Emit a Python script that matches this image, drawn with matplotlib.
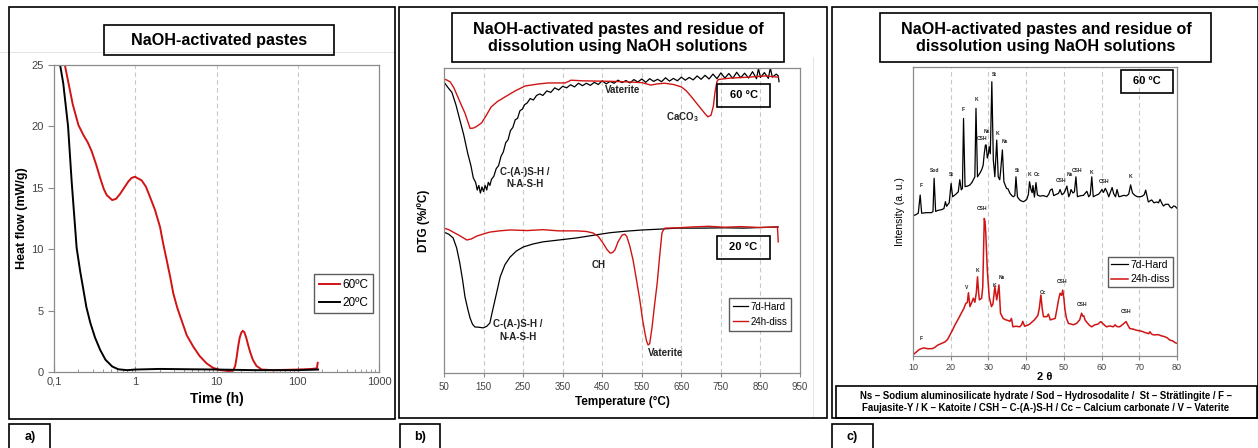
import numpy as np
import matplotlib.pyplot as plt
from matplotlib.patches import Rectangle
from matplotlib.lines import Line2D
from matplotlib.ticker import FixedLocator, FixedFormatter, LogLocator, NullFormatter

plt.rcParams['font.family'] = ['Liberation Sans', 'DejaVu Sans']
plt.rcParams['mathtext.default'] = 'regular'

# ---------------- panel a : calorimetry (h, mW/g)
time_60 = [0.136, 0.15, 0.17, 0.2, 0.23, 0.26, 0.29, 0.33, 0.37, 0.41, 0.446, 0.52, 0.58,
           0.65, 0.73, 0.82, 0.9, 0.99, 1.2, 1.35, 1.51, 1.75, 2.02, 2.2, 2.44, 2.7, 2.94,
           3.3, 3.72, 4.3, 5.18, 6.2, 7.56, 9.0, 11, 14, 16, 17, 17.8, 18.5, 19.3, 20.2,
           21, 22, 23.2, 24.5, 26, 28, 31, 36, 50, 100, 150, 172, 176]
heat_60 = [25, 23.6, 21.8, 20.1, 19.3, 18.7, 18.0, 16.9, 15.8, 14.9, 14.4, 14.0, 14.1,
           14.5, 15.0, 15.5, 15.8, 15.9, 15.6, 15.1, 14.3, 13.2, 11.8, 10.5, 9.1, 7.7, 6.4,
           5.2, 4.2, 3.0, 2.06, 1.3, 0.7, 0.35, 0.16, 0.08, 0.1, 0.5, 1.3, 2.1, 2.8, 3.2,
           3.35, 3.25, 2.8, 2.2, 1.6, 1.0, 0.5, 0.2, 0.15, 0.2, 0.25, 0.3, 0.75]
time_20 = [0.119, 0.13, 0.149, 0.165, 0.19, 0.21, 0.23, 0.25, 0.28, 0.32, 0.37, 0.43,
           0.52, 0.62, 0.79, 1.0, 2, 5, 10, 30, 100, 178]
heat_20 = [25, 23.5, 20, 15.5, 10.1, 8.2, 6.7, 5.3, 4.0, 2.8, 1.8, 1.0,
           0.45, 0.22, 0.15, 0.2, 0.25, 0.22, 0.2, 0.15, 0.15, 0.2]
time_ticks = [0.1, 1, 10, 100, 1000]
time_labels = ['0,1', '1', '10', '100', '1000']

# ---------------- panel b : DTG (arbitrary offset units)
T_hard60 = [50, 60, 70, 80, 90, 100, 110, 118, 124, 130, 134, 138, 142, 146, 150, 154,
            158, 162, 166, 170, 176, 182, 188, 194, 200, 206, 212, 218, 224, 230, 236,
            242, 248, 254, 260, 268, 276, 284, 292, 300, 310, 320, 330, 340, 350, 360,
            370, 380, 390, 400, 410, 420, 430, 440, 450, 460, 470, 480, 490, 500, 510,
            520, 530, 540, 550, 560, 570, 580, 590, 600, 610, 620, 630, 640, 650, 660,
            670, 680, 690, 700, 710, 720, 730, 740, 750, 760, 770, 780, 790, 800, 810,
            820, 830, 840, 845, 850, 860, 870, 875, 880, 890, 895, 897]
D_hard60 = [95.4, 93.6, 92.0, 88.0, 83.0, 78.0, 72.0, 68.0, 64.0, 62.5, 60.0, 61.5,
            59.0, 61.0, 59.5, 61.5, 60.0, 62.5, 61.5, 63.5, 64.5, 67.0, 68.0, 71.0,
            72.5, 75.5, 76.5, 79.5, 80.5, 83.0, 83.5, 86.0, 86.5, 88.0, 88.5, 90.0,
            89.5, 91.0, 91.5, 91.0, 92.5, 92.0, 93.5, 92.8, 94.0, 93.5, 94.5, 93.8,
            95.0, 94.2, 95.0, 94.3, 95.3, 94.6, 95.8, 94.8, 95.6, 95.0, 96.0, 95.2,
            95.9, 95.1, 96.2, 95.4, 96.4, 95.3, 96.5, 95.6, 96.3, 95.5, 96.8, 95.7,
            96.6, 95.8, 97.0, 96.0, 96.9, 96.1, 97.4, 96.3, 97.6, 96.4, 98.0, 96.5,
            98.4, 96.7, 98.2, 96.6, 98.6, 96.8, 98.3, 96.7, 98.8, 96.5, 99.8, 96.9,
            98.5, 96.6, 100.0, 97.0, 98.0, 97.4, 95.5]
T_diss60 = [50, 58, 66, 75, 85, 95, 103, 110, 116, 124, 132, 145, 157, 169, 185, 204,
            230, 255, 285, 313, 356, 365, 371, 400, 440, 480, 522, 550, 573, 590, 608,
            630, 650, 662, 674, 687, 700, 710, 717, 725, 731, 735, 740, 743, 760, 776,
            820, 862, 895]
D_diss60 = [96.4, 96.0, 95.4, 93.5, 90.5, 87.5, 85.2, 82.5, 80.2, 80.3, 80.8, 82.0,
            84.5, 87.2, 89.0, 90.5, 92.5, 94.1, 94.7, 95.1, 95.1, 95.6, 96.0, 95.8,
            95.7, 95.6, 95.4, 95.2, 94.4, 94.8, 95.0, 94.6, 93.8, 92.6, 90.8, 88.7,
            86.6, 85.0, 84.0, 84.5, 87.5, 92.0, 95.5, 96.2, 96.5, 96.7, 97.0, 97.4,
            97.0]
T_hard20 = [50, 62, 73, 82, 90, 97, 103, 110, 116, 122, 128, 138, 149, 158, 166, 172,
            179, 186, 192, 204, 217, 233, 250, 275, 300, 340, 386, 430, 470, 510, 553,
            600, 639, 700, 760, 806, 850, 895]
D_hard20 = [46.2, 45.5, 44.3, 41.0, 36.0, 30.5, 25.0, 21.0, 18.0, 16.0, 15.1, 15.0,
            14.8, 15.3, 16.4, 20.0, 24.0, 28.0, 31.5, 35.5, 38.0, 40.0, 41.3, 42.3,
            43.0, 43.6, 44.3, 45.2, 46.0, 46.5, 46.9, 47.2, 47.5, 47.5, 47.6, 47.5,
            47.7, 47.9]
T_diss20 = [50, 62, 73, 90, 108, 120, 133, 150, 166, 190, 217, 260, 300, 340, 386,
            410, 427, 440, 452, 462, 470, 476, 482, 490, 500, 507, 512, 520, 528, 536,
            545, 552, 558, 562, 566, 570, 576, 582, 589, 595, 601, 605, 609, 640, 680,
            720, 760, 800, 850, 893, 895]
D_diss20 = [47.5, 47.0, 46.2, 45.0, 43.6, 44.0, 44.9, 45.6, 46.2, 46.6, 46.9, 46.7,
            47.0, 46.6, 46.6, 46.4, 45.9, 44.8, 42.6, 40.5, 39.3, 39.5, 40.3, 43.0,
            45.2, 45.5, 44.8, 41.5, 37.0, 31.0, 24.0, 17.5, 13.1, 10.5, 9.2, 9.6,
            15.0, 22.0, 29.5, 38.0, 45.9, 47.0, 47.5, 47.6, 47.9, 48.1, 47.8, 48.0,
            47.7, 47.9, 43.0]

# ---------------- panel c : XRD (2 theta, a.u.)
tt_hard = [10.0, 10.6, 11.4, 11.9, 12.3, 13.5, 14.9, 15.3, 15.6, 16.0, 16.6, 17.5, 18.2,
           18.6, 18.9, 19.6, 20.1, 20.5, 21.2, 22.0, 22.4, 22.8, 23.1, 23.4, 23.8, 24.5,
           25.1, 25.6, 26.0, 26.4, 26.7, 27.1, 27.7, 28.2, 28.6, 28.9, 29.2, 29.4, 29.7,
           30.0, 30.2, 30.5, 30.9, 31.3, 31.7, 32.2, 32.6, 33.0, 33.2, 33.7, 34.1, 34.5,
           34.8, 35.2, 35.7, 36.2, 36.6, 37.0, 37.3, 37.7, 38.3, 38.8, 39.3, 39.8, 40.2,
           40.6, 40.9, 41.3, 41.6, 41.8, 42.2, 42.6, 43.0, 43.7, 44.5, 45.5, 46.0, 46.4,
           46.9, 47.3, 47.8, 48.2, 48.6, 49.0, 49.5, 50.0, 50.4, 50.8, 51.3, 51.6, 51.9,
           52.4, 52.8, 53.2, 53.6, 54.2, 55.2, 56.1, 56.6, 57.0, 57.4, 57.8, 58.5, 59.2,
           59.6, 60.1, 60.5, 61.0, 61.5, 61.9, 62.3, 62.8, 63.2, 63.7, 64.1, 64.6, 65.2,
           65.9, 66.6, 67.2, 67.7, 68.2, 68.8, 69.5, 70.2, 70.8, 71.3, 71.7, 72.1, 72.4,
           73.0, 73.3, 73.9, 74.6, 75.1, 75.5, 76.0, 76.4, 77.0, 77.7, 78.2, 78.6, 79.1,
           79.5, 80.0]
I_hard = [48.5, 48.8, 49.4, 55.7, 49.4, 49.6, 49.6, 50.0, 61.5, 50.0, 50.4, 50.6, 51.0,
          53.4, 51.8, 53.0, 59.7, 55.1, 55.8, 56.8, 61.0, 57.5, 58.0, 82.2, 58.6, 58.8,
          59.2, 60.0, 61.0, 62.0, 85.7, 62.0, 63.2, 64.4, 66.0, 70.1, 73.0, 73.0, 68.5,
          70.0, 72.4, 70.0, 94.9, 67.8, 62.0, 74.7, 62.0, 61.0, 63.5, 71.3, 60.3, 59.0,
          58.0, 57.8, 56.3, 55.5, 55.1, 55.5, 62.0, 55.0, 54.0, 53.6, 53.4, 53.8, 54.3,
          56.0, 60.3, 57.5, 56.5, 59.0, 55.0, 60.0, 55.7, 55.3, 55.5, 55.1, 56.0, 57.4,
          57.8, 55.5, 55.8, 56.0, 56.3, 57.6, 55.8, 56.3, 57.4, 58.8, 55.1, 56.0, 57.6,
          56.4, 56.8, 62.0, 55.1, 55.4, 55.6, 57.0, 55.1, 55.8, 62.0, 55.1, 55.6, 56.0,
          56.6, 57.6, 56.6, 58.0, 56.6, 55.1, 56.5, 58.3, 56.2, 55.1, 57.6, 55.1, 55.3,
          55.6, 55.4, 56.0, 59.2, 56.4, 55.6, 55.1, 55.1, 55.3, 55.8, 57.4, 55.0, 53.3,
          53.8, 54.0, 53.0, 53.3, 53.0, 54.2, 52.8, 51.9, 52.5, 52.5, 51.5, 51.2, 51.9,
          51.8, 51.1]
tt_diss = [10.0, 10.5, 11.0, 11.6, 12.3, 13.0, 13.5, 14.3, 15.3, 16.0, 16.6, 17.5, 18.5,
           19.2, 19.8, 20.5, 21.1, 22.0, 22.8, 23.5, 24.0, 24.4, 24.7, 25.1, 25.6, 26.0,
           26.4, 26.8, 27.1, 27.4, 27.6, 28.2, 28.5, 28.9, 29.1, 29.3, 29.7, 30.2, 30.8,
           31.2, 31.7, 32.2, 32.8, 33.2, 33.9, 34.6, 35.2, 35.7, 36.1, 36.5, 37.3, 38.3,
           38.8, 39.1, 39.6, 40.3, 40.9, 41.6, 42.2, 43.1, 43.5, 43.9, 44.3, 44.6, 45.5,
           45.9, 46.4, 47.2, 47.7, 48.2, 48.6, 49.0, 49.4, 49.7, 50.0, 50.3, 50.7, 51.2,
           52.0, 52.5, 53.4, 54.2, 54.7, 55.0, 55.3, 55.6, 56.0, 56.8, 57.4, 58.2, 59.0,
           59.8, 60.5, 61.3, 62.2, 63.1, 63.6, 64.0, 64.8, 65.7, 66.5, 67.0, 67.5, 68.4,
           69.3, 70.2, 71.0, 71.5, 71.9, 72.5, 72.8, 73.2, 73.5, 74.2, 75.0, 75.8, 76.7,
           77.4, 78.1, 78.9, 79.5, 80.0]
I_diss = [0.3, 1.0, 1.5, 2.2, 2.6, 2.8, 2.6, 2.5, 2.6, 3.2, 3.8, 4.3, 4.9,
          5.8, 7.3, 9.0, 10.7, 12.8, 14.8, 16.5, 18.2, 18.5, 21.9, 17.1, 18.6, 20.0,
          18.6, 22.0, 27.4, 22.0, 19.4, 20.0, 24.0, 47.6, 46.5, 42.5, 29.8, 20.5, 17.1,
          18.0, 24.0, 19.4, 24.6, 14.8, 13.0, 12.5, 12.3, 12.0, 13.0, 10.1, 10.3, 10.1,
          10.8, 12.0, 10.3, 10.6, 11.0, 11.8, 12.5, 14.0, 16.5, 21.1, 16.0, 13.6, 13.6,
          14.5, 12.5, 12.8, 13.0, 16.5, 19.5, 21.7, 21.0, 22.8, 20.0, 15.9, 13.0, 11.3,
          11.0, 10.8, 11.3, 12.5, 14.8, 13.8, 13.9, 12.5, 11.8, 10.6, 10.1, 10.8, 11.0,
          11.9, 11.0, 10.1, 10.4, 10.1, 10.8, 10.2, 10.1, 11.0, 11.9, 10.6, 9.5, 9.3,
          8.9, 8.7, 8.4, 8.1, 8.0, 7.7, 8.4, 7.7, 7.4, 7.3, 7.4, 7.0, 6.7,
          6.3, 5.5, 5.2, 4.6, 4.4]
# peak labels: (text, 2theta, height)
labels_hard = [('F', 12.1, 58.2), ('Sod', 15.7, 63.2), ('St', 20.1, 61.8), ('F', 23.2, 84.5),
               ('K', 26.7, 88.0), ('CSH', 28.4, 74.4), ('Ns', 29.6, 76.8), ('St', 31.7, 96.7),
               ('K', 32.4, 76.1), ('Ns', 34.4, 73.4), ('St', 37.7, 63.2), ('K', 41.0, 61.8),
               ('Cc', 43.0, 61.8), ('CSH', 49.2, 60.0), ('Ns', 51.6, 61.8), ('CSH', 53.5, 63.2),
               ('K', 57.4, 62.6), ('CSH', 60.6, 59.5), ('K', 67.7, 61.2)]
labels_diss = [('F', 12.3, 5.3), ('V', 24.2, 22.8), ('K', 27.1, 28.8), ('CSH', 28.3, 50.3),
               ('K', 31.6, 23.6), ('Ns', 33.5, 26.3), ('Cc', 44.4, 21.0), ('CSH', 49.4, 24.8),
               ('CSH', 54.9, 17.1), ('CSH', 66.5, 14.4)]

RED = '#d01414'
GRID = '#c8c8c8'
SPINE = '#8a8a8a'
TICK = '#444444'

W, H = 1258, 448
fig = plt.figure(figsize=(W / 100, H / 100), dpi=100)


def fbox(x0, y0, x1, y1, lw=1.2, ec='black'):
    fig.add_artist(Rectangle((x0 / W, 1 - y1 / H), (x1 - x0) / W, (y1 - y0) / H,
                             transform=fig.transFigure, fill=False, lw=lw, ec=ec, zorder=5))


def ftext(x, y, s, **kw):
    fig.text(x / W, 1 - y / H, s, ha='center', va='center', **kw)


def add_ax(x0, y0, x1, y1):
    ax = fig.add_axes([x0 / W, 1 - y1 / H, (x1 - x0) / W, (y1 - y0) / H])
    for sp in ax.spines.values():
        sp.set_edgecolor(SPINE)
        sp.set_linewidth(0.9)
    return ax


# faint scan artefacts
fig.add_artist(Line2D([0, 395 / W], [1 - 52 / H] * 2, color='#e4e4e4', lw=0.7))
fig.add_artist(Line2D([813 / W] * 2, [1 - 57 / H, 1 - 418 / H], color='#e4e4e4', lw=0.7))

# frames and titles
fbox(9, 7, 395, 419)
fbox(399, 7, 827, 418)
fbox(832, 7, 1258, 418)
fbox(9, 424, 50, 452)
fbox(400, 424, 440, 452)
fbox(832, 424, 873, 452)
ftext(30, 437, 'a)', fontsize=9, fontweight='bold')
ftext(420, 437, 'b)', fontsize=9, fontweight='bold')
ftext(852, 437, 'c)', fontsize=9, fontweight='bold')

fbox(104, 25, 334, 55)
ftext(219, 40, 'NaOH-activated pastes', fontsize=11.6, fontweight='bold')
title_bc = 'NaOH-activated pastes and residue of\ndissolution using NaOH solutions'
fbox(452, 13, 784, 62)
ftext(618, 38, title_bc, fontsize=11.6, fontweight='bold', linespacing=1.2)
fbox(880, 13, 1211, 62)
ftext(1046, 38, title_bc, fontsize=11.6, fontweight='bold', linespacing=1.2)

# ---------------- panel a
ax_a = add_ax(54, 65, 379, 372)
ax_a.plot(time_60, heat_60, color=RED, lw=1.4, label='60ºC')
ax_a.plot(time_20, heat_20, color='black', lw=1.4, label='20ºC')
ax_a.set_xscale('log')
ax_a.set_xlim(0.1, 1000)
ax_a.set_ylim(0, 25)
ax_a.xaxis.set_major_locator(FixedLocator(time_ticks))
ax_a.xaxis.set_major_formatter(FixedFormatter(time_labels))
ax_a.xaxis.set_minor_locator(LogLocator(base=10, subs=np.arange(2, 10)))
ax_a.xaxis.set_minor_formatter(NullFormatter())
ax_a.set_yticks([0, 5, 10, 15, 20, 25])
for g in [1, 10, 100]:
    ax_a.axvline(g, color=GRID, lw=0.8, ls=(0, (4, 3)), zorder=0)
ax_a.tick_params(axis='x', which='both', direction='in', colors=SPINE, labelcolor=TICK, labelsize=8)
ax_a.tick_params(axis='x', which='major', length=4)
ax_a.tick_params(axis='x', which='minor', length=2.5)
ax_a.tick_params(axis='y', direction='out', length=4, colors=SPINE, labelcolor=TICK, labelsize=8)
ax_a.set_xlabel('Time (h)', fontsize=10, fontweight='bold', labelpad=4)
ax_a.set_ylabel('Heat flow (mW/g)', fontsize=9, fontweight='bold', labelpad=2)
leg = ax_a.legend(loc='upper left', bbox_to_anchor=(0.80, 0.319), borderaxespad=0,
                  fontsize=8.5, frameon=True, fancybox=False, handlelength=1.8,
                  handletextpad=0.2, borderpad=0.4, labelspacing=0.5)
leg.get_frame().set_edgecolor('#333333')
leg.get_frame().set_linewidth(1.0)

# ---------------- panel b
ax_b = add_ax(444, 68, 800, 373)
ax_b.plot(T_hard60, D_hard60, color='black', lw=0.9, label='7d-Hard')
ax_b.plot(T_diss60, D_diss60, color=RED, lw=1.0, label='24h-diss')
ax_b.plot(T_hard20, D_hard20, color='black', lw=0.9)
ax_b.plot(T_diss20, D_diss20, color=RED, lw=1.0)
ax_b.set_xlim(50, 950)
ax_b.set_ylim(0, 100)
ax_b.set_xticks(range(50, 951, 100))
ax_b.set_yticks([])
for g in range(150, 900, 100):
    ax_b.axvline(g, color=GRID, lw=0.8, ls=(0, (4, 3)), zorder=0)
ax_b.tick_params(axis='x', direction='out', length=3, colors=SPINE, labelcolor=TICK, labelsize=7)
ax_b.set_xlabel('Temperature (°C)', fontsize=8.5, fontweight='bold', labelpad=3)
ax_b.set_ylabel('DTG (%/ºC)', fontsize=8.5, fontweight='bold', labelpad=10)
ann = dict(fontsize=7, fontweight='bold', ha='center', va='center', color='#222222')
ax_b.text(502, 92.8, 'Vaterite', **ann)
ax_b.text(652, 84, 'CaCO$_3$', **ann)
ax_b.text(254, 64, 'C-(A-)S-H /\nN-A-S-H', linespacing=1.3, **ann)
ax_b.text(236, 14, 'C-(A-)S-H /\nN-A-S-H', linespacing=1.3, **ann)
ax_b.text(442, 35.4, 'CH', **ann)
ax_b.text(610, 6.5, 'Vaterite', **ann)
fbox(717, 84, 770, 107)
ftext(743.5, 95.5, '60 °C', fontsize=8, fontweight='bold')
fbox(717, 236, 770, 259)
ftext(743.5, 247.5, '20 °C', fontsize=8, fontweight='bold')
leg = ax_b.legend(loc='upper left', bbox_to_anchor=(0.80, 0.246), borderaxespad=0,
                  fontsize=7, frameon=True, fancybox=False, handlelength=1.6,
                  handletextpad=0.2, borderpad=0.4, labelspacing=0.5)
leg.get_frame().set_edgecolor('#333333')
leg.get_frame().set_linewidth(1.0)

# ---------------- panel c
ax_c = add_ax(913, 67, 1177, 356)
ax_c.plot(tt_hard, I_hard, color='black', lw=0.9, label='7d-Hard')
ax_c.plot(tt_diss, I_diss, color=RED, lw=1.1, label='24h-diss')
ax_c.set_xlim(10, 80)
ax_c.set_ylim(0, 100)
ax_c.set_xticks(range(10, 81, 10))
ax_c.set_yticks([])
for g in range(20, 80, 10):
    ax_c.axvline(g, color=GRID, lw=0.8, ls=(0, (4, 3)), zorder=0)
ax_c.tick_params(axis='x', direction='out', length=3, pad=2, colors=SPINE, labelcolor=TICK,
                 labelsize=6.5)
ax_c.set_xlabel('2 θ', fontsize=8, fontweight='bold', labelpad=0)
ax_c.set_ylabel('Intensity (a. u.)', fontsize=7.5, labelpad=6)
pk = dict(fontsize=3.6, fontweight='bold', ha='center', va='bottom', color='#222222')
for s, x, y in labels_hard + labels_diss:
    ax_c.text(x, y, s, **pk)
fbox(1121, 70, 1173, 93)
ftext(1147, 81.5, '60 ºC', fontsize=8, fontweight='bold')
leg = ax_c.legend(loc='upper left', bbox_to_anchor=(0.739, 0.343), borderaxespad=0,
                  fontsize=7.5, frameon=True, fancybox=False, handlelength=1.6,
                  handletextpad=0.2, borderpad=0.3, labelspacing=0.4)
leg.get_frame().set_edgecolor('#333333')
leg.get_frame().set_linewidth(1.0)

fbox(836, 386, 1257, 418)
ftext(1046, 402, 'Ns – Sodium aluminosilicate hydrate / Sod – Hydrosodalite /  St – Strätlingite / F –\n'
      'Faujasite-Y / K – Katoite / CSH – C-(A-)S-H / Cc – Calcium carbonate / V – Vaterite',
      fontsize=6.9, fontweight='bold', linespacing=1.25)

fig.savefig('out.png', dpi=100)
